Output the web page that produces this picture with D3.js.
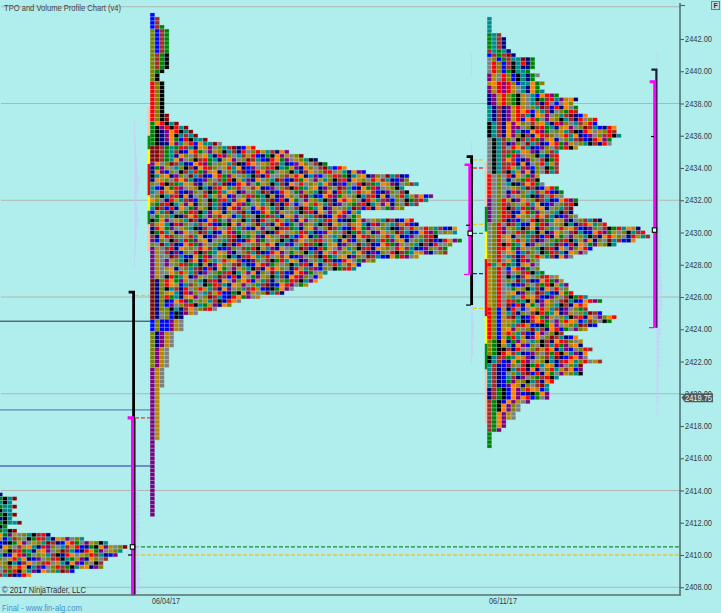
<!DOCTYPE html>
<html><head><meta charset="utf-8">
<script src="https://cdn.jsdelivr.net/npm/d3@7/dist/d3.min.js"></script>
<style>html,body{margin:0;padding:0;background:#b0eeee;overflow:hidden}svg{display:block}text{font-family:"Liberation Sans",Arial,sans-serif}</style>
</head><body><svg id="c" width="721" height="613"></svg>
<script>
// ---- data ----
const title = "TPO and Volume Profile Chart (v4)";
const priceTicks = [2442,2440,2438,2436,2434,2432,2430,2428,2426,2424,2422,2420,2418,2416,2414,2412,2410,2408];
const gridPrices = [2444,2438,2432,2426,2420,2414,2408];
const dateLabels = [["06/04/17",166],["06/11/17",503]];
const lastPrice = 2419.75;
const palette = {O:"#808000",B:"#0000ff",R:"#a52a2a",G:"#008000",K:"#000000",E:"#ff0000",Y:"#b8860b",T:"#008b8b",N:"#000080",A:"#ff8000",P:"#800080",H:"#808080",M:"#8b0000"};

// row widths (number of TPO letters at each price level, top price first, 0.25 steps)
const p0Top = 2413.75;
const p0Counts = [1,4,3,4,3,4,3,5,2,4,11,18,23,27,26,25,23,22,22,16,7];
const p1Top = 2443.5;
const p1Counts = [1,2,2,3,4,4,4,4,4,4,4,4,4,4,3,2,2,3,3,3,3,3,3,3,3,4,4,6,8,9,10,12,15,22,29,32,35,37,41,45,54,54,56,53,54,59,58,56,53,44,44,55,56,64,64,60,65,63,62,62,56,47,44,43,37,36,35,33,30,28,23,19,17,14,10,7,7,7,7,5,5,5,5,4,4,4,4,4,3,3,3,3,3,2,2,2,2,2,2,2,2,2,2,2,2,2,1,1,1,1,1,1,1,1,1,1,1,1,1,1,1,1,1,1,1];
const p2Top = 2443.25;
const p2Counts = [1,1,1,1,3,4,4,4,5,6,10,10,10,9,11,10,12,11,12,15,19,18,19,19,21,23,23,27,27,28,26,26,19,15,15,15,15,15,15,11,11,12,15,16,16,19,19,18,18,19,24,25,32,33,34,31,27,22,21,18,11,11,11,12,15,16,17,17,18,21,24,21,21,24,27,26,23,21,16,19,20,20,22,21,21,24,20,20,20,15,14,13,13,13,13,9,7,7,6,6,4,4,3,1,1,1,1];

// TPO period letters: [first row, last row, leading letters]
const p0Runs = [[0,0,"N"],[1,1,"GKTM"],[2,2,"TKT"],[3,3,"GTTM"],[4,4,"KTT"],[5,5,"GKTM"],[6,6,"NKT"],[7,7,"GKTTM"],[8,8,"KG"],[9,9,"GTKM"]];
const p1Runs = [[0,0,"B"],[1,2,"BR"],[3,3,"BRG"],[4,9,"OBRG"],[10,13,"ORGK"],[14,14,"OGK"],[15,16,"OK"],[17,24,"EOK"],[25,26,"EOKM"],[27,27,"GAEKTM"],[28,28,"GKPEKETM"],[29,29,"GKNPAEKTM"],[30,30,"GKNPAKTRTM"],[31,31,"GKNPAGBEKTTM"],[32,32,"GKNNAPTYEBATTM"],[33,36,"MMRGT"],[58,65,"PYH"],[66,73,"MNO"],[74,75,"MNHOBKNPYH"],[76,78,"BOBBPYH"],[79,82,"ONPYH"],[83,87,"OPYH"],[88,92,"PYH"],[93,105,"PY"],[106,124,"P"]];
const p2Runs = [[0,3,"T"],[4,7,"GTRN"],[8,8,"RTGTN"],[9,9,"BRGRMN"],[10,10,"HOBGRTTMNG"],[11,11,"HEOBRKTENG"],[12,12,"HEOBRKTNNG"],[13,13,"HEOBGKTTG"],[14,15,"PYHEOBKTNG"],[16,16,"YAEPEOBTTAG"],[17,18,"PYEPEYHTNAG"],[19,21,"NPYEOGKYHT"],[22,25,"TNRNPYE"],[26,29,"KTRNAP"],[30,38,"HKTR"],[39,44,"EHOH"],[45,50,"PHOE"],[51,57,"HOE"],[58,60,"YOEH"],[61,61,"ETYE"],[62,71,"YOEH"],[72,79,"EOBY"],[80,83,"OGK"],[84,85,"KTR"],[86,91,"TRNB"],[92,94,"NRGKBAP"],[95,95,"RGKBAPYHP"],[96,97,"RGKAPOH"],[98,99,"RGAPYH"],[100,101,"RGAP"],[102,102,"RGP"],[103,106,"G"]];

// estimated letter pattern used for the dense body of the profiles
const bodyPattern = [
"HOEYTRNAPHOTREYBNKGAPHYOTMRNBAEGHPYOKTRNE",
"OHRYATNEPOHTRYEBNGKAPYHOMTRNAEBGHPOYTKRNA",
"YHEOTRBNAPHOKREGTNYAPHOMRTBNEAGPHYOTKNRHE",
"HYOERTNBPAOHRKGETYNPAHOMRTNBAEPGHOYTRKNEA",
"ROHYETANBPHOREKTGYPNAOHRMTBEANGPYHTOKRNAE",
"OREHYTNAPBOHKRTEGPYANHOTRMBNEAPGHYOKTNRAH",
"HORYEANTPBHOERGKTYANPOHMTRNBAEGPYHOTKRNEH",
"YOHEARTNBPOHRGEKYTPNAHOTMRBNEGAHPYTOKRENA",
"EHOYTARNPBOHEKRGTAYPNHORTMNBEAPHGYOKTRNAH",
"TOEHYRANBPHORKEGTYANPOHMRTBNAGEPHYOKTNREA",
"OTHEYARBNPOHRKGETAYNPHOTMRNBEAHGPYOTKRANE",
"NHOETYRABPHOERGTKYNPAOHRMTNBAEPGYHOKTRENA",
"AOHNEYTRPBOHKGRETPYANHOTRMBENAGHPYOTKRNAE",
"BHAOEYTRNPHOGREKTYPANOHMTRBNAEPGHYTOKRNEH",
"POHBAEYTRNOHRKEGTANPYHOTMRBENAHGPYOKTRNAE",
"HPOAEBYTRNHOGERKTPAYNOHRMTNBEAGPYHOTKRENA",
"GHPOEAYBTROHKGERTNAYPHOTRMNBAEPHGYOTKNRAE"];
const rowShifts = [0,11,23,5,31,17,2,27,13,37,8,21,34,3,19,29,6,15,39,10,25,1,33];

// pale volume profile bars, one list per block of price rows
const vol1Top = 2436.75, vol1 = [1,1,1,1.5,1.5,2,2,2,2.5,3,3,3,4,4,5,5,4,4,3,3,3,4,4,4,5,4,3,3,3,2,2,2,2,1,1,1];
const vol1bTop = 2414.25, vol1b = [2,3,3,3,3,4,4,4,4,4,4,3,4,3,3,4,3,3,3,4,4,4,4,5,4,4,3];
const vol2aTop = 2441, vol2a = [1,1,1,1,1,1];
const vol2bTop = 2435.5, vol2b = [1,1,1.5,2,2,3,3,3,3,3,2,2,2,2,3,3,2,2,2,2,3,3,3,2,2,2,3,3,3,3,3,3,4,4,4,3,3,2,2,3,3,3,2,2,2,3,3,3,3,2,2,2,2,1,1];
const vol3Top = 2441, vol3 = [1,1,1,1,1,1,1,1,1,1,1,1,1,1,1,1,2,2,2,2,2,2,2,2,2,2,3,3,3,3,3,3,3,3,3,3,3,3,3,3,3,3,3,4,4,4,4,5,4,4,4,5,5,4,4,5,5,6,6,5,5,6,6,5,4,4,4,4,4,4,3,3,3,3,3,3,3,3,2,2,2,2,2,2,2,2,2,1,1,1];

// horizontal reference levels and value-area brackets
const hLines = [[2424.5,"#1c2e44",1],[2419.0,"#5c86c4",1.4],[2415.52,"#2a2ab0",1]];
const fullDash = [[2410.5,"#1f8a3c"],[2410.0,"#e8c43a"]];
const bands1 = [[2437.8,2436,"#ffc0ae"],[2436,2435.15,"#0a8a14"],[2435.15,2434.25,"#ffff00"],[2434.25,2432.3,"#ff0000"],[2432.3,2431.35,"#ffff00"],[2431.35,2430.5,"#0a8a14"],[2430.5,2428.8,"#ffc0ae"]];
const bands2 = [[2434.35,2431.6,"#ffc0ae"],[2431.6,2430.05,"#0a8a14"],[2430.05,2428.35,"#ffff00"],[2428.35,2424.8,"#ff0000"],[2424.8,2423.1,"#ffff00"],[2423.1,2421.5,"#0a8a14"],[2421.5,2418.2,"#ffc0ae"]];
const marks2Dash = [[2434.5,"#f2c81e"],[2434.0,"#e03c3c"],[2430.5,"#f2c81e"],[2429.95,"#1f8a3c"],[2427.45,"#2020c0"],[2425.3,"#f2c81e"]];

// ---- drawing ----
const svg = d3.select("#c");
const y = d3.scaleLinear().domain([2442,2408]).range([39,587.25]);
const g = svg.append("g");
g.append("rect").attr("width",721).attr("height",613).attr("fill","#b0eeee");

g.selectAll(".grid").data(gridPrices).join("line").attr("x1",1).attr("x2",680)
 .attr("y1",d=>y(d)).attr("y2",d=>y(d)).attr("stroke","#b2b4b4").attr("stroke-width",1.2);

g.selectAll(".hl").data(hLines).join("line").attr("x1",0).attr("x2",150)
 .attr("y1",d=>y(d[0])).attr("y2",d=>y(d[0])).attr("stroke",d=>d[1]).attr("stroke-width",d=>d[2]);

g.selectAll(".fd").data(fullDash).join("line").attr("x1",135).attr("x2",680)
 .attr("y1",d=>y(d[0])).attr("y2",d=>y(d[0])).attr("stroke",d=>d[1]).attr("stroke-width",1.3).attr("stroke-dasharray","4 2");

// pale volume profiles
function vol(top,vals,xStart){
  const xw = d3.scaleLinear().domain([0,10]).range([0,10]);
  g.append("g").selectAll("rect").data(vals).join("rect")
   .attr("x",xStart).attr("y",(d,i)=>y(top-i*0.25)-1.7)
   .attr("width",d=>xw(d)).attr("height",3.4).attr("fill","#c9c9fb").attr("opacity",.7);
}
vol(vol1Top,vol1,134);
vol(vol1bTop,vol1b,135.5);
vol(vol2aTop,vol2a,471);
vol(vol2bTop,vol2b,471);
vol(vol3Top,vol3,656.5);

// coloured bands left of each profile
function bands(data,x0){
  g.append("g").selectAll("rect").data(data).join("rect")
   .attr("x",x0).attr("width",2.6)
   .attr("y",d=>y(d[0])).attr("height",d=>y(d[1])-y(d[0])).attr("fill",d=>d[2]);
}
bands(bands1,147.6);
bands(bands2,484.8);

function profile(top,counts,runs,x0,off){
  const xc = d3.scaleLinear().domain([0,100]).range([x0,x0+480]);
  const cells=[];
  counts.forEach((n,r)=>{
    const run = runs.find(q=>r>=q[0]&&r<=q[1]);
    const head = run?run[2]:"";
    const tile = bodyPattern[(r+off)%bodyPattern.length];
    const shift = rowShifts[(r+off)%rowShifts.length];
    for(let c=0;c<n;c++){
      const L = c<head.length?head[c]:tile[(c+shift)%tile.length];
      cells.push({r,c,L});
    }
  });
  g.append("g").selectAll("rect").data(cells).join("rect")
   .attr("x",d=>xc(d.c)+0.3).attr("width",4.2)
   .attr("y",d=>y(top-d.r*0.25)-1.7).attr("height",3.4)
   .attr("fill",d=>palette[d.L]).attr("stroke",d=>palette[d.L]).attr("stroke-opacity",.3).attr("stroke-width",.7);
}
profile(p0Top,p0Counts,p0Runs,-2.2,5);
profile(p1Top,p1Counts,p1Runs,150,0);
profile(p2Top,p2Counts,p2Runs,487,9);

function bracket(x,p1,p2,col,w,capL){
  const a=y(p1),b=y(p2);
  const path=d3.path(); path.moveTo(x-capL,a); path.lineTo(x,a); path.lineTo(x,b);
  g.append("path").attr("d",path.toString()).attr("fill","none").attr("stroke",col).attr("stroke-width",w);
}
function dash(p,x1,x2,c){
  g.append("line").attr("x1",x1).attr("x2",x2).attr("y1",y(p)).attr("y2",y(p)).attr("stroke",c).attr("stroke-width",1.3).attr("stroke-dasharray","4 2");
}
function box(px,p){
  g.append("rect").attr("x",px-2).attr("y",y(p)-2.2).attr("width",4.4).attr("height",4.4).attr("fill","#e8fff8").attr("stroke","#000").attr("stroke-width",1.1);
}
function tick(x1,x2,p,c){ g.append("line").attr("x1",x1).attr("x2",x2).attr("y1",y(p)).attr("y2",y(p)).attr("stroke",c||"#000").attr("stroke-width",1.2); }

// profile 1 left
bracket(133.6,2426.3,2407.5,"#000",2.8,5);
bracket(132.6,2418.5,2407.5,"#ff00ff",3.2,5);
g.append("line").attr("x1",135).attr("x2",135).attr("y1",y(2418.5)).attr("y2",595).attr("stroke","#000").attr("stroke-width",1);
dash(2426.1,135,150,"#f2c81e");
dash(2418.5,135,150,"#e03c3c");
box(132.3,2410.5);
tick(128,132,2410,"#000");
// profile 2 left
bracket(471.6,2434.7,2425.5,"#000",2.8,5);
tick(466,471,2425.5,"#000");
bracket(469.6,2434.2,2427.4,"#ff00ff",2.6,5);
tick(464,469,2427.4,"#ff00ff");
marks2Dash.forEach(d=>dash(d[0],473,485,d[1]));
box(470,2429.95);
tick(466,470,2430.45,"#000");
// profile 2 right
bracket(656.4,2440.1,2424.1,"#14203a",2.2,5);
bracket(654.7,2439.35,2424.1,"#ff00ff",3,5);
tick(649,654,2424.1,"#ff00ff");
tick(651,654,2435.95,"#000");
box(654.3,2430.15);

// axis
const axis = d3.axisRight(y).tickValues(priceTicks).tickFormat(d3.format(".2f")).tickSize(4).tickPadding(1);
const ax = svg.append("g").attr("transform","translate(680,0)").call(axis);
ax.select(".domain").remove();
ax.selectAll("line").attr("stroke","#4c6464").attr("stroke-width",1.1);
ax.selectAll("text").attr("fill","#3a3a3a").style("font-size","8.4px").attr("textLength",27).attr("lengthAdjust","spacingAndGlyphs");
svg.append("line").attr("x1",680).attr("x2",680).attr("y1",3).attr("y2",595).attr("stroke","#4c6a6a").attr("stroke-width",1.5);
svg.append("line").attr("x1",680).attr("x2",685).attr("y1",5.5).attr("y2",5.5).attr("stroke","#4c6464").attr("stroke-width",1.1);
svg.append("line").attr("x1",0).attr("x2",681).attr("y1",595).attr("y2",595).attr("stroke","#5c6c6c").attr("stroke-width",1.6);

// last price tag
const lp = svg.append("g").attr("transform",`translate(0,${y(lastPrice)})`);
lp.append("path").attr("d","M681.5 0 L685 -4.5 L713 -4.5 L713 4.5 L685 4.5 Z").attr("fill","#4e5a5a");
lp.append("text").attr("x",685).attr("y",3).attr("fill","#f4f4f4").style("font-size","8.4px").attr("textLength",27).attr("lengthAdjust","spacingAndGlyphs").text(lastPrice.toFixed(2));

// F box
svg.append("rect").attr("x",711.5).attr("y",1.5).attr("width",8).attr("height",8).attr("fill","#c4dcdc").attr("stroke","#6c7c7c").attr("stroke-width",1);
svg.append("text").attr("x",713.6).attr("y",8.2).attr("fill","#333").style("font-size","7px").style("font-weight","bold").text("F");

// texts
function label(x,yy,col,len,txt){
  return svg.append("text").attr("x",x).attr("y",yy).attr("fill",col).style("font-size","8.6px").attr("textLength",len).attr("lengthAdjust","spacingAndGlyphs").text(txt);
}
label(4,11,"#444",117,title);
label(2,593,"#333",84,"© 2017 NinjaTrader, LLC");
label(2,611,"#4d8fc4",80,"Final - www.fin-alg.com");
dateLabels.forEach(d=>label(d[1]-14,604,"#3a3a3a",28,d[0]));
</script></body></html>
